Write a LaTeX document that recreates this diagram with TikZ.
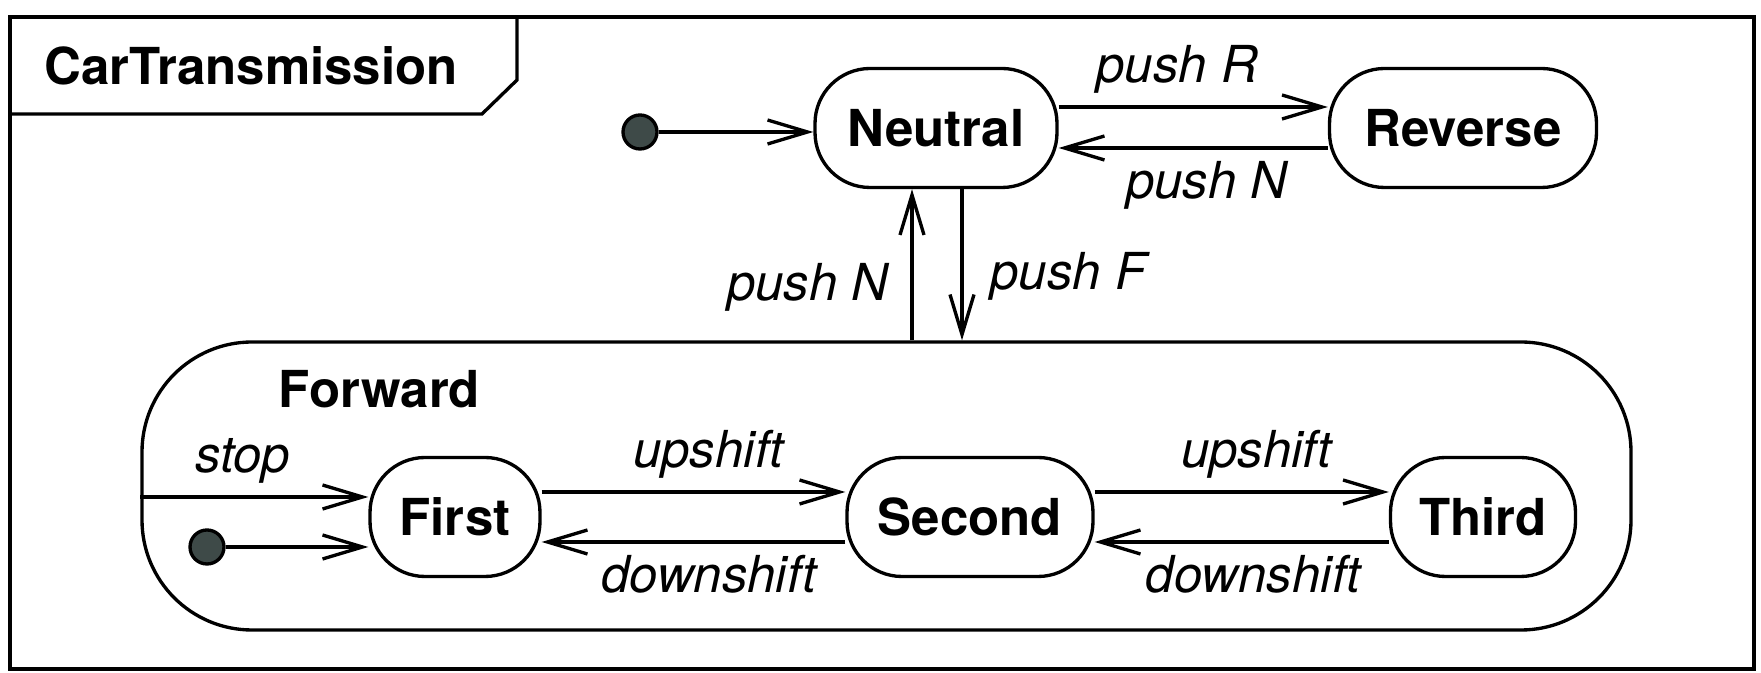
\documentclass[tikz,border=0pt]{standalone}
\usepackage{fontspec}
\setmainfont{TeX Gyre Heros}
\usepackage{tikz}
\usetikzlibrary{arrows.meta}
\usetikzlibrary{calc}

\definecolor{dotgray}{RGB}{62,74,72}

\begin{document}
\begin{tikzpicture}[>/.tip={Straight Barb[length=4mm,width=2.4mm]},line width=0.95pt,
	every node/.style={font=\fontsize{14.5}{17}\selectfont},
	state/.style={draw,rounded corners=5.5mm,minimum height=1.19cm,inner sep=0pt,font=\fontsize{14.5}{17}\selectfont\bfseries},
	startdot/.style={draw,shape=circle,fill=dotgray,minimum size=3.4mm,inner sep=0pt},
	trans/.style={font=\fontsize{14.5}{17}\selectfont\itshape}]
	\useasboundingbox (0,0) rectangle (17.61,6.73);
	% frame and name tab
	\draw (0.10,0.04) rectangle (17.54,6.56);
	\draw (0.10,5.59) -- (4.82,5.59) -- (5.17,5.93) -- (5.17,6.56);
	\node [anchor=base west,inner sep=0pt,font=\fontsize{14.5}{17}\selectfont\bfseries] at (0.43,5.88) {CarTransmission};
	% upper states
	\draw (6.40,5.41) node(d1) [startdot] {};
	\draw (9.36,5.45) node(N) [state,minimum width=2.42cm] {Neutral};
	\draw (14.63,5.45) node(R) [state,minimum width=2.67cm] {Reverse};
	% composite state
	\draw (8.865,1.87) node(Fw) [draw,rounded corners=11mm,minimum width=14.89cm,minimum height=2.88cm] {};
	\node [anchor=base west,inner sep=0pt,font=\fontsize{14.5}{17}\selectfont\bfseries] at (2.77,2.65) {Forward};
	\draw (2.07,1.26) node(d2) [startdot] {};
	\draw (4.55,1.56) node(F1) [state,minimum width=1.70cm] {First};
	\draw (9.70,1.56) node(S) [state,minimum width=2.46cm] {Second};
	\draw (14.83,1.56) node(T) [state,minimum width=1.85cm] {Third};
	% transitions
	\draw[->] (d1) -- (d1 -| N.west);
	\draw[->] ([yshift=2.1mm]N.east) -- ([yshift=2.1mm]N.east -| R.west) node[trans,above,pos=0.44] {push R};
	\draw[->] ([yshift=-2mm]R.west) -- ([yshift=-2mm]R.west -| N.east) node[trans,below,pos=0.45] {push N};
	\draw[->] ([xshift=-2.4mm]N.south |- Fw.north) -- ([xshift=-2.4mm]N.south) node[trans,left,xshift=-1mm,pos=0.35] {push N};
	\draw[->] ([xshift=2.6mm]N.south) -- ([xshift=2.6mm]N.south |- Fw.north) node[trans,right,xshift=1.5mm,pos=0.58] {push F};
	\draw[->] ([yshift=2mm]F1.west -| Fw.west) -- ([yshift=2mm]F1.west) node[trans,above,pos=0.45] {stop};
	\draw[->] (d2) -- (d2 -| F1.west);
	\draw[->] ([yshift=2.5mm]F1.east) -- ([yshift=2.5mm]F1.east -| S.west) node[trans,above,pos=0.55] {upshift};
	\draw[->] ([yshift=-2.5mm]S.west) -- ([yshift=-2.5mm]S.west -| F1.east) node[trans,below,pos=0.45] {downshift};
	\draw[->] ([yshift=2.5mm]S.east) -- ([yshift=2.5mm]S.east -| T.west) node[trans,above,pos=0.55] {upshift};
	\draw[->] ([yshift=-2.5mm]T.west) -- ([yshift=-2.5mm]T.west -| S.east) node[trans,below,pos=0.46] {downshift};
\end{tikzpicture}
\end{document}
